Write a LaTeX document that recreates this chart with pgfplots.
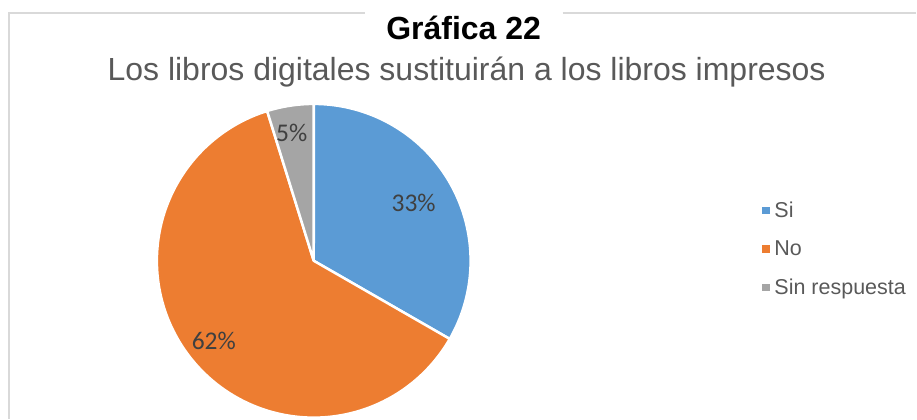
\documentclass[border=0pt]{standalone}
\usepackage{pgfplots}
\usepackage{pgfplotstable}
\pgfplotsset{compat=1.18}
\usepackage{fontspec}
\setmainfont{Liberation Sans}
\newfontfamily\calibri{Carlito}
\definecolor{cSi}{HTML}{5B9BD5}
\definecolor{cNo}{HTML}{ED7D31}
\definecolor{cSr}{HTML}{A5A5A5}
\definecolor{frame}{HTML}{D9D9D9}
\definecolor{subgray}{HTML}{595959}
\definecolor{lblgray}{HTML}{404040}

\pgfplotstableread{
label value
Si 33.3
No 61.9
Sr 4.8
}\piedata

\begin{document}%
\begin{tikzpicture}
\pgfplotstablegetelem{0}{value}\of\piedata \let\vA\pgfplotsretval
\pgfplotstablegetelem{1}{value}\of\piedata \let\vB\pgfplotsretval
\pgfplotstablegetelem{2}{value}\of\piedata \let\vC\pgfplotsretval
\pgfmathsetmacro\aA{90}
\pgfmathsetmacro\aB{\aA-3.6*\vA}
\pgfmathsetmacro\aC{\aB-3.6*\vB}
\pgfmathsetmacro\aD{\aC-3.6*\vC}
\begin{axis}[
  x=1pt, y=1pt, scale only axis,
  xmin=0, xmax=917, ymin=0, ymax=419,
  hide axis, clip=false,
  legend style={draw=none, fill=none, at={(axis cs:760,170)}, anchor=west,
    font=\fontsize{21.5}{21.5}\selectfont\color{subgray}, row sep=17pt,
    nodes={inner sep=2.5pt},
    /tikz/every odd column/.append style={column sep=3pt}},
  legend cell align=left,
]
\path (axis cs:0,0) rectangle (axis cs:917,419);
% frame
\draw[frame, line width=1.5pt] (axis cs:9,0) -- (axis cs:9,406) -- (axis cs:365,406);
\draw[frame, line width=1.5pt] (axis cs:563,406) -- (axis cs:917,406);
% sectors
\addplot[fill=cSi, draw=white, line width=2.5pt, line join=round, domain=\aB:\aA, samples=100, forget plot]
  ({314+157*cos(x)},{158+157*sin(x)}) -- (axis cs:314,158) -- cycle;
\addplot[fill=cNo, draw=white, line width=2.5pt, line join=round, domain=\aC:\aB, samples=160, forget plot]
  ({314+157*cos(x)},{158+157*sin(x)}) -- (axis cs:314,158) -- cycle;
\addplot[fill=cSr, draw=white, line width=2.5pt, line join=round, domain=\aD:\aC, samples=20, forget plot]
  ({314+157*cos(x)},{158+157*sin(x)}) -- (axis cs:314,158) -- cycle;
% labels
\node[font=\calibri\fontsize{25.5}{25.5}\selectfont, text=lblgray] at (axis cs:414,216) {33\%};
\node[font=\calibri\fontsize{25.5}{25.5}\selectfont, text=lblgray] at (axis cs:214,78) {62\%};
\node[font=\calibri\fontsize{25.5}{25.5}\selectfont, text=lblgray] at (axis cs:292,286) {5\%};
% titles
\node[font=\bfseries\fontsize{32}{32}\selectfont, text=black] at (axis cs:464,391) {Gráfica 22};
\node[font=\fontsize{32}{32}\selectfont, text=subgray] at (axis cs:467,347) {Los libros digitales sustituirán a los libros impresos};
% legend
\addlegendimage{only marks, mark=square*, mark size=3.2pt, color=cSi}
\addlegendentry{Si}
\addlegendimage{only marks, mark=square*, mark size=3.2pt, color=cNo}
\addlegendentry{No}
\addlegendimage{only marks, mark=square*, mark size=3.2pt, color=cSr}
\addlegendentry{Sin respuesta}
\end{axis}
\end{tikzpicture}%
\end{document}
